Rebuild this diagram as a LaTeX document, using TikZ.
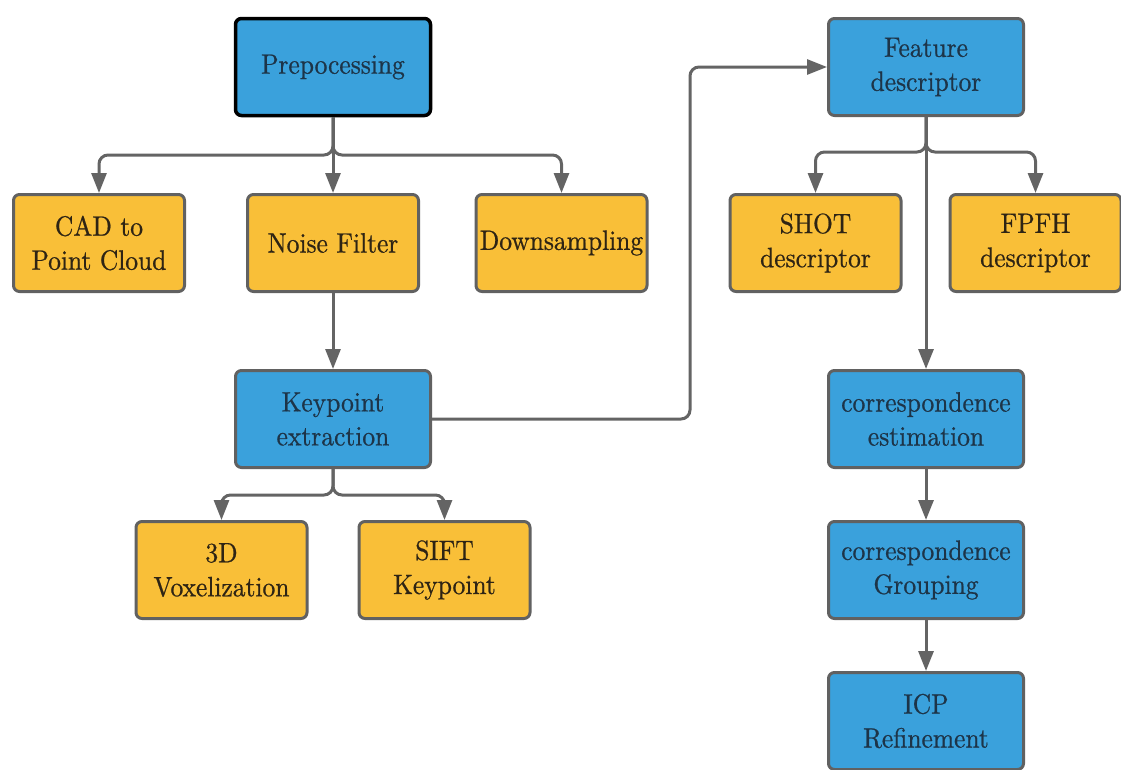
\documentclass[tikz,border=0pt]{standalone}
\usepackage{fontspec}
\newfontfamily\labelfont{lmroman10-regular.otf}[
  BoldFont=lmroman10-regular.otf, BoldFeatures={FakeBold=0.7, FakeStretch=0.91}]
\usetikzlibrary{arrows.meta}
\definecolor{boxblue}{HTML}{3AA1DC}
\definecolor{boxyellow}{HTML}{F9BF38}
\definecolor{edgegray}{HTML}{616161}
\definecolor{linkgray}{HTML}{646464}
\definecolor{bluetext}{HTML}{1D3448}
\definecolor{yellowtext}{HTML}{2E2414}
\tikzset{
  basebox/.style={rectangle, rounded corners=6pt, line width=3pt, draw=edgegray,
    align=center, inner sep=0pt,
    font=\labelfont\bfseries\fontsize{28}{34}\selectfont},
  bluebox/.style={basebox, fill=boxblue, text=bluetext,
    minimum width=195pt, minimum height=97pt},
  yellowbox/.style={basebox, fill=boxyellow, text=yellowtext,
    minimum width=171pt, minimum height=97pt},
  link/.style={draw=linkgray, line width=3pt, rounded corners=9pt,
    -{Triangle[length=20pt,width=15pt]}},
}
\begin{document}
\begin{tikzpicture}[x=1pt,y=-1pt]
\useasboundingbox (0,0) rectangle (1121,769);

% left column
\node[bluebox, draw=black, line width=3.5pt] (pre) at (333,67) {Prepocessing};
\node[yellowbox] (cad) at (99,243) {CAD to\\Point Cloud};
\node[yellowbox] (noise) at (333,243) {Noise Filter};
\node[yellowbox] (down) at (561.5,243) {Downsampling};
\node[bluebox] (key) at (333,419) {Keypoint\\extraction};
\node[yellowbox] (vox) at (221.5,570) {3D\\Voxelization};
\node[yellowbox] (sift) at (444.5,570) {SIFT\\Keypoint};

% right column
\node[bluebox] (feat) at (926,67) {Feature\\descriptor};
\node[yellowbox] (shot) at (815.5,243) {SHOT\\descriptor};
\node[yellowbox] (fpfh) at (1035.5,243) {FPFH\\descriptor};
\node[bluebox] (est) at (926,419) {correspondence\\estimation};
\node[bluebox] (grp) at (926,570) {correspondence\\Grouping};
\node[bluebox] (icp) at (926,721) {ICP\\Refinement};

% preprocessing branches
\coordinate (preb) at (333,155);
\draw[link] (pre.south) -- (preb) -| (cad.north);
\draw[link] (pre.south) -- (noise.north);
\draw[link] (pre.south) -- (preb) -| (down.north);

% noise filter to keypoints
\draw[link] (noise.south) -- (key.north);

% keypoint branches
\coordinate (keyb) at (333,495);
\draw[link] (key.south) -- (keyb) -| (vox.north);
\draw[link] (key.south) -- (keyb) -| (sift.north);

% keypoints to feature descriptor
\coordinate (turn) at (690,419);
\draw[link] (key.east) -- (turn) |- (feat.west);

% feature descriptor branches
\coordinate (featb) at (926,152);
\draw[link] (feat.south) -- (featb) -| (shot.north);
\draw[link] (feat.south) -- (featb) -| (fpfh.north);
\draw[link] (feat.south) -- (est.north);

% matching chain
\draw[link] (est.south) -- (grp.north);
\draw[link] (grp.south) -- (icp.north);
\end{tikzpicture}
\end{document}
